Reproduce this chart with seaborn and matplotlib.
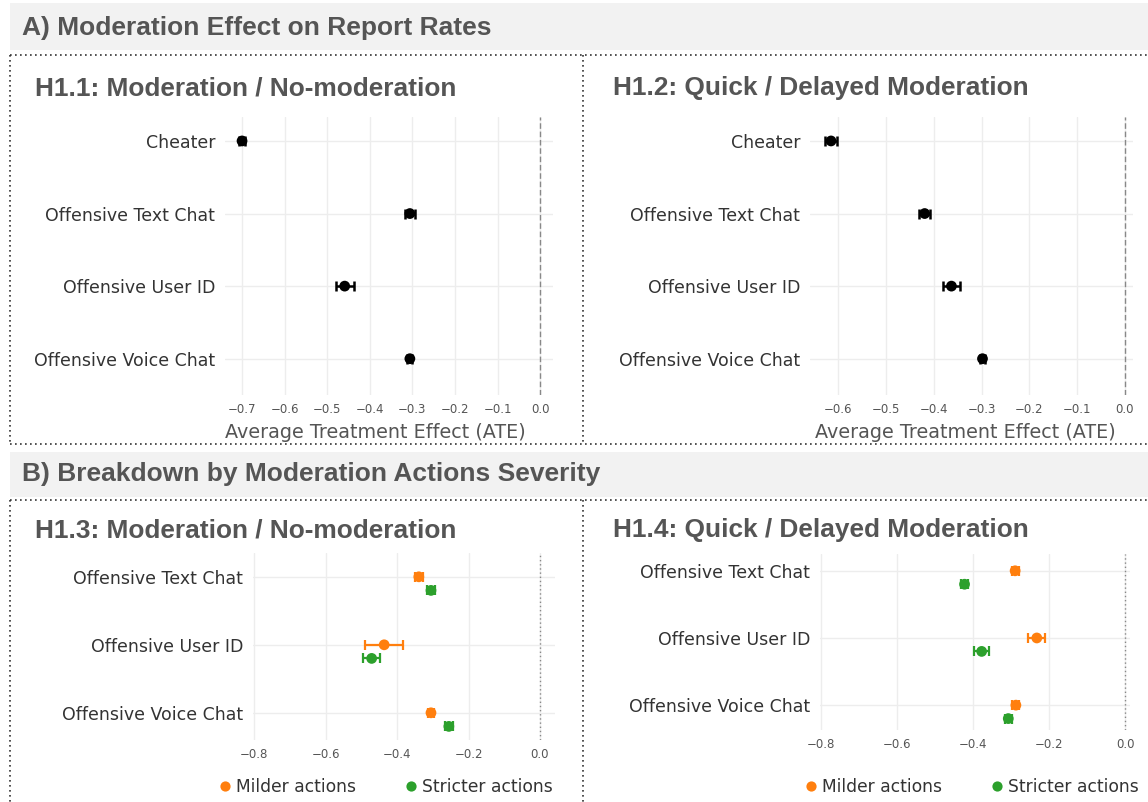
import numpy as np
import pandas as pd
import matplotlib
matplotlib.use("Agg")
import matplotlib.pyplot as plt
from matplotlib.lines import Line2D
from matplotlib.patches import Rectangle
import seaborn as sns

# ---------------- data ----------------
cats_a = ["Cheater", "Offensive Text Chat", "Offensive User ID", "Offensive Voice Chat"]
h11_ate = [-0.700, -0.306, -0.459, -0.306]
h11_lo = [-0.708, -0.318, -0.480, -0.312]
h11_hi = [-0.692, -0.294, -0.437, -0.300]
h12_ate = [-0.615, -0.419, -0.363, -0.298]
h12_lo = [-0.628, -0.430, -0.381, -0.303]
h12_hi = [-0.602, -0.408, -0.345, -0.293]

cats_b = ["Offensive Text Chat", "Offensive User ID", "Offensive Voice Chat"]
groups = ["Milder actions", "Stricter actions"]
h13_milder = [-0.339, -0.436, -0.305]
h13_milder_lo = [-0.350, -0.490, -0.314]
h13_milder_hi = [-0.328, -0.384, -0.296]
h13_stricter = [-0.305, -0.471, -0.255]
h13_stricter_lo = [-0.315, -0.495, -0.266]
h13_stricter_hi = [-0.295, -0.448, -0.244]
h14_milder = [-0.289, -0.232, -0.287]
h14_milder_lo = [-0.298, -0.254, -0.296]
h14_milder_hi = [-0.280, -0.210, -0.278]
h14_stricter = [-0.422, -0.377, -0.307]
h14_stricter_lo = [-0.432, -0.397, -0.316]
h14_stricter_hi = [-0.412, -0.358, -0.298]

ticks_a1 = [-0.7, -0.6, -0.5, -0.4, -0.3, -0.2, -0.1, 0.0]
ticks_a2 = [-0.6, -0.5, -0.4, -0.3, -0.2, -0.1, 0.0]
ticks_b = [-0.8, -0.6, -0.4, -0.2, 0.0]

# ---------------- style ----------------
sns.set_theme(style="whitegrid")
plt.rcParams["font.family"] = ["DejaVu Sans"]
GRID = "#ededed"
TXT = "#555555"
COLORS = {"Milder actions": "#ff7f0e", "Stricter actions": "#2ca02c"}

W, H = 1148, 802
fig = plt.figure(figsize=(W / 100, H / 100), dpi=100)
fig.patch.set_facecolor("white")


def fx(px):
    return px / W


def fy(py):
    return 1 - py / H


def axes_px(left, top, right, bottom):
    return fig.add_axes([fx(left), fy(bottom), (right - left) / W, (bottom - top) / H])


# header bands
for y0, y1 in [(3, 50), (452, 497)]:
    fig.add_artist(Rectangle((fx(10), fy(y1)), fx(W) - fx(10), (y1 - y0) / H,
                             transform=fig.transFigure, facecolor="#f2f2f2",
                             edgecolor="none", zorder=0))

fig.text(fx(22), fy(28), "A) Moderation Effect on Report Rates", fontsize=19,
         fontweight="bold", color=TXT, family="Liberation Sans", va="center", ha="left")
fig.text(fx(22), fy(474), "B) Breakdown by Moderation Actions Severity", fontsize=19,
         fontweight="bold", color=TXT, family="Liberation Sans", va="center", ha="left")

# dotted frames
dot_kw = dict(color="#333333", lw=1.2, linestyle=(0, (1, 2)), transform=fig.transFigure)
for yy in [55, 444, 500]:
    fig.add_artist(Line2D([fx(10), fx(W)], [fy(yy), fy(yy)], **dot_kw))
for xx in [10, 583]:
    fig.add_artist(Line2D([fx(xx), fx(xx)], [fy(55), fy(444)], **dot_kw))
    fig.add_artist(Line2D([fx(xx), fx(xx)], [fy(500), fy(H)], **dot_kw))

# panel titles
for (tx, ty, t) in [(35, 88, "H1.1: Moderation / No-moderation"),
                    (613, 88, "H1.2: Quick / Delayed Moderation"),
                    (35, 530, "H1.3: Moderation / No-moderation"),
                    (613, 530, "H1.4: Quick / Delayed Moderation")]:
    fig.text(fx(tx), fy(ty), t, fontsize=18.9, fontweight="bold", color=TXT,
             family="Liberation Sans", va="center", ha="left")


def style_ax(ax, xlim, ylim, ticks, cats, zero_ls):
    ax.set_facecolor("white")
    ax.set_xlim(*xlim)
    ax.set_ylim(*ylim)
    ax.set_xticks(ticks)
    ax.set_xticklabels([f"{t:.1f}".replace("-", "\u2212") if t != 0 else "0.0" for t in ticks])
    ax.set_yticks(range(len(cats)))
    ax.set_yticklabels(cats)
    ax.grid(True, color=GRID, lw=1.0)
    for s in ax.spines.values():
        s.set_visible(False)
    ax.tick_params(axis="x", labelsize=8.5, labelcolor="#555555", length=0, pad=6)
    ax.tick_params(axis="y", labelsize=12.5, labelcolor="#333333", length=0, pad=7)
    ax.axvline(0, color="#888888", lw=1.0, linestyle=zero_ls, zorder=1)
    ax.set_xlabel("")
    ax.set_ylabel("")


def panel_a(ax, ate, lo, hi, xlim, ticks, label_x):
    df = pd.DataFrame({"cat": cats_a, "ate": ate, "lo": lo, "hi": hi})
    df["y"] = np.arange(len(df))
    ax.errorbar(df["ate"], df["y"], xerr=[df["ate"] - df["lo"], df["hi"] - df["ate"]],
                fmt="none", ecolor="black", elinewidth=1.8, capsize=3.5, capthick=1.8, zorder=3)
    sns.scatterplot(data=df, x="ate", y="y", color="black", s=60, edgecolor="none",
                    ax=ax, zorder=4, legend=False)
    style_ax(ax, xlim, (3.5, -0.33), ticks, cats_a, (0, (4, 2)))
    ax.set_xlabel("Average Treatment Effect (ATE)", fontsize=13.8, color="#555555")
    ax.xaxis.set_label_coords(label_x, -0.1)


def panel_b(ax, milder, mlo, mhi, stricter, slo, shi, xlim, ylim, legend_x):
    rows = []
    for i, c in enumerate(cats_b):
        rows.append(dict(cat=c, group=groups[0], ate=milder[i], lo=mlo[i], hi=mhi[i], y=i))
        rows.append(dict(cat=c, group=groups[1], ate=stricter[i], lo=slo[i], hi=shi[i], y=i + 0.2))
    df = pd.DataFrame(rows)
    for g, sub in df.groupby("group"):
        ax.errorbar(sub["ate"], sub["y"], xerr=[sub["ate"] - sub["lo"], sub["hi"] - sub["ate"]],
                    fmt="none", ecolor=COLORS[g], elinewidth=1.6, capsize=3.5, capthick=1.6, zorder=3)
    sns.scatterplot(data=df, x="ate", y="y", hue="group", hue_order=groups, palette=COLORS,
                    s=60, edgecolor="none", ax=ax, zorder=4)
    style_ax(ax, xlim, ylim, ticks_b, cats_b, (0, (1, 2)))
    handles, labels = ax.get_legend_handles_labels()
    ax.legend(handles, labels, loc="center", bbox_to_anchor=(fx(legend_x), fy(787)),
              bbox_transform=fig.transFigure, ncol=2, frameon=False, fontsize=12.3,
              handlelength=0.7, handletextpad=0.3, columnspacing=2.9, markerscale=0.95,
              labelcolor="#333333", borderpad=0, borderaxespad=0)


ax1 = axes_px(225, 117, 553, 395)
panel_a(ax1, h11_ate, h11_lo, h11_hi, (-0.74, 0.03), ticks_a1, 0.459)
ax2 = axes_px(810, 117, 1133, 395)
panel_a(ax2, h12_ate, h12_lo, h12_hi, (-0.659, 0.017), ticks_a2, 0.48)

ax3 = axes_px(253, 553, 555, 740)
panel_b(ax3, h13_milder, h13_milder_lo, h13_milder_hi, h13_stricter, h13_stricter_lo,
        h13_stricter_hi, (-0.803, 0.042), (2.4, -0.35), 386)
ax4 = axes_px(820, 554, 1130, 730)
panel_b(ax4, h14_milder, h14_milder_lo, h14_milder_hi, h14_stricter, h14_stricter_lo,
        h14_stricter_hi, (-0.802, 0.013), (2.37, -0.25), 972)

fig.savefig("out.png", dpi=100, facecolor="white")
